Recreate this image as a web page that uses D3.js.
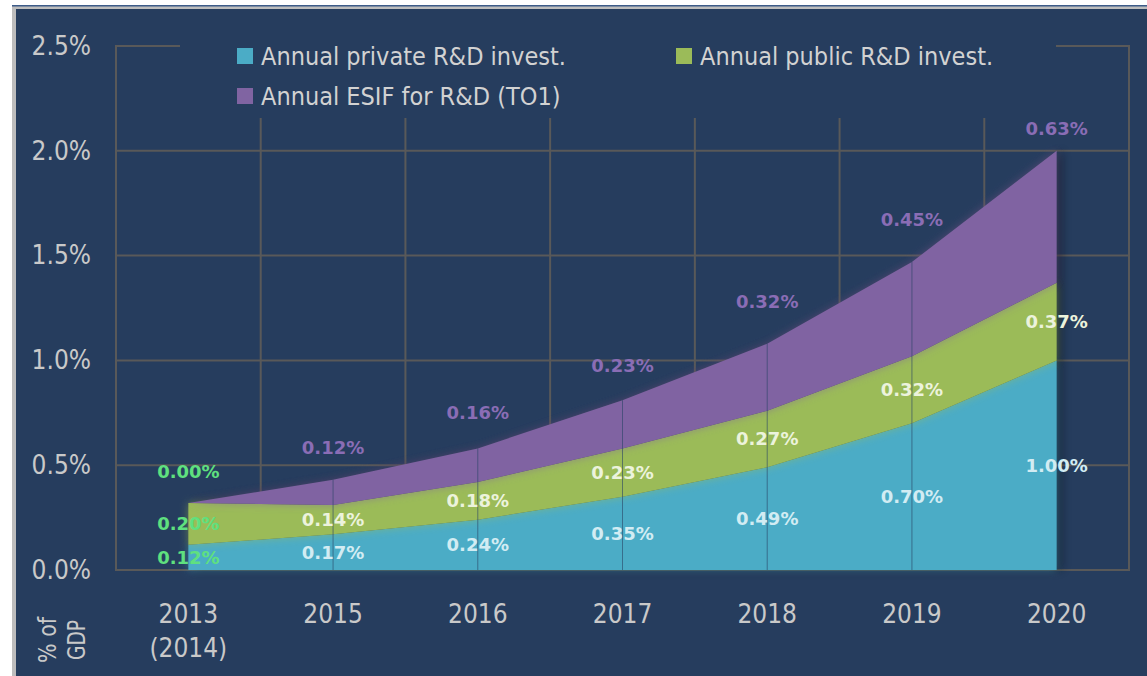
<!DOCTYPE html>
<html>
<head>
<meta charset="utf-8">
<script src="https://cdn.jsdelivr.net/npm/d3@7"></script>
<style>
    html, body { margin: 0; padding: 0; background: #ffffff; }
    #chart svg { display: block; }
</style>
</head>
<body>
<div id="chart"></div>
<script>
// Chart data (values in % of GDP)
const years = ["2013|(2014)", "2015", "2016", "2017", "2018", "2019", "2020"];
const privateRD = [0.12, 0.17, 0.24, 0.35, 0.49, 0.70, 1.00];
const publicRD = [0.20, 0.14, 0.18, 0.23, 0.27, 0.32, 0.37];
const esifRD = [0.00, 0.12, 0.16, 0.23, 0.32, 0.45, 0.63];
const yTicks = [0, 0.5, 1.0, 1.5, 2.0, 2.5];
const seriesNames = ["Annual private R&D invest.", "Annual public R&D invest.", "Annual ESIF for R&D (TO1)"];

// how far the ESIF label sits above the top of the stack (px)
const esifLabelLift = [31, 32, 36, 35, 42, 42, 22];

class StackedAreaChart {
    constructor(containerId, width = 1147, height = 676) {
        this.containerId = containerId;
        this.width = width;
        this.height = height;
        this.plot = { left: 116, right: 1129, top: 46, bottom: 570 };
        this.colors = ["#4bacc6", "#9bbb59", "#8064a2"];
        this.panelColor = "#263d5e";
        this.gridColor = "#595959";
        this.textFont = '"DejaVu Sans Condensed", "Liberation Sans", sans-serif';
        this.labelFont = '"DejaVu Sans", Verdana, sans-serif';
        this.initialize();
    }

    initialize() {
        this.svg = d3.select('#' + this.containerId)
            .append('svg')
            .attr('width', this.width)
            .attr('height', this.height);

        // Frame and dark panel
        this.svg.append('rect')
            .attr('x', 12).attr('y', 5)
            .attr('width', this.width - 12).attr('height', this.height - 5)
            .attr('fill', '#bdbdbd');
        this.svg.append('rect')
            .attr('x', 12).attr('y', 5)
            .attr('width', this.width - 12).attr('height', 1.5)
            .attr('fill', '#3d5b88');
        this.svg.append('rect')
            .attr('x', 16).attr('y', 9)
            .attr('width', this.width - 16).attr('height', this.height - 9)
            .attr('fill', this.panelColor);

        // Soft glow around the areas
        const defs = this.svg.append('defs');
        const glow = defs.append('filter')
            .attr('id', 'glow')
            .attr('x', '-10%').attr('y', '-10%')
            .attr('width', '120%').attr('height', '120%');
        glow.append('feGaussianBlur')
            .attr('in', 'SourceGraphic')
            .attr('stdDeviation', 4)
            .attr('result', 'blur');
        glow.append('feComponentTransfer')
            .attr('in', 'blur')
            .attr('result', 'soft')
            .append('feFuncA').attr('type', 'linear').attr('slope', 0.55);
        const merge = glow.append('feMerge');
        merge.append('feMergeNode').attr('in', 'soft');
        merge.append('feMergeNode').attr('in', 'SourceGraphic');

        const shadow = defs.append('filter')
            .attr('id', 'shadow')
            .attr('x', '-10%').attr('y', '-10%')
            .attr('width', '120%').attr('height', '120%');
        shadow.append('feGaussianBlur')
            .attr('in', 'SourceAlpha')
            .attr('stdDeviation', 5);

        // Scales
        this.x = d3.scaleBand()
            .domain(years)
            .range([this.plot.left, this.plot.right]);
        this.y = d3.scaleLinear()
            .domain([0, 2.5])
            .range([this.plot.bottom, this.plot.top]);
    }

    cx(year) {
        return this.x(year) + this.x.bandwidth() / 2;
    }

    render() {
        const rows = years.map((year, i) => ({
            year: year,
            private: privateRD[i],
            public: publicRD[i],
            esif: esifRD[i]
        }));
        const keys = ['private', 'public', 'esif'];
        const stacked = d3.stack().keys(keys)(rows);

        this.drawGrid();

        // Stacked areas
        const area = d3.area()
            .x(d => this.cx(d.data.year))
            .y0(d => this.y(d[0]))
            .y1(d => this.y(d[1]));

        const top = stacked[stacked.length - 1];
        const outline = d3.area()
            .x(d => this.cx(d.data.year))
            .y0(this.y(0))
            .y1(d => this.y(d[1]));
        this.svg.append('path')
            .datum(top)
            .attr('d', outline)
            .attr('transform', 'translate(5,0)')
            .attr('fill', '#0d1a2c')
            .attr('opacity', 0.45)
            .attr('filter', 'url(#shadow)');

        this.svg.selectAll('path.layer')
            .data(stacked)
            .join('path')
            .attr('class', 'layer')
            .attr('d', area)
            .attr('fill', (d, i) => this.colors[i])
            .attr('filter', 'url(#glow)');

        // Thin drop lines at every year
        this.svg.selectAll('line.drop')
            .data(top.slice(1, -1))
            .join('line')
            .attr('class', 'drop')
            .attr('x1', d => this.cx(d.data.year))
            .attr('x2', d => this.cx(d.data.year))
            .attr('y1', d => this.y(d[1]))
            .attr('y2', this.y(0))
            .attr('stroke', '#2a4466')
            .attr('stroke-opacity', 0.6)
            .attr('stroke-width', 1);

        this.drawLabels(stacked);
        this.drawAxes();
        this.drawLegend();
    }

    drawGrid() {
        const g = this.svg.append('g').attr('class', 'grid');
        g.selectAll('line.h')
            .data(yTicks)
            .join('line')
            .attr('class', 'h')
            .attr('x1', this.plot.left).attr('x2', this.plot.right)
            .attr('y1', d => this.y(d)).attr('y2', d => this.y(d))
            .attr('stroke', this.gridColor)
            .attr('stroke-width', 2);

        const xs = years.map(d => this.x(d)).concat([this.plot.right]);
        g.selectAll('line.v')
            .data(xs)
            .join('line')
            .attr('class', 'v')
            .attr('x1', d => d).attr('x2', d => d)
            .attr('y1', this.y(2.5) - 1).attr('y2', this.y(0) + 1)
            .attr('stroke', this.gridColor)
            .attr('stroke-width', 2);
    }

    drawLabels(stacked) {
        const fmt = v => v.toFixed(2) + '%';
        const labelColors = ['#d2ecf3', '#ecf3dc', '#8a6db5'];
        const firstColor = '#5fe07f';

        stacked.forEach((layer, k) => {
            this.svg.selectAll('text.lbl' + k)
                .data(layer)
                .join('text')
                .attr('class', 'lbl' + k)
                .attr('x', d => this.cx(d.data.year))
                .attr('y', (d, i) => k < 2
                    ? this.y((d[0] + d[1]) / 2)
                    : this.y(d[1]) - esifLabelLift[i])
                .attr('dy', '0.36em')
                .attr('text-anchor', 'middle')
                .style('font-family', this.labelFont)
                .style('font-weight', 'bold')
                .style('font-size', '18px')
                .attr('fill', (d, i) => i === 0 ? firstColor : labelColors[k])
                .text(d => fmt(d[1] - d[0]));
        });
    }

    drawAxes() {
        // Y axis labels
        const yAxis = d3.axisLeft(this.y)
            .tickValues(yTicks)
            .tickSize(0)
            .tickPadding(25)
            .tickFormat(d => d.toFixed(1) + '%');
        const gy = this.svg.append('g')
            .attr('transform', `translate(${this.plot.left},0)`)
            .call(yAxis);
        gy.select('.domain').remove();
        gy.selectAll('text')
            .style('font-family', this.textFont)
            .style('font-size', '26px')
            .attr('fill', '#c9c9c9');

        // X axis labels (two lines for the first year)
        const xAxis = d3.axisBottom(this.x)
            .tickSize(0)
            .tickPadding(35);
        const gx = this.svg.append('g')
            .attr('transform', `translate(0,${this.plot.bottom})`)
            .call(xAxis);
        gx.select('.domain').remove();
        gx.selectAll('text')
            .attr('dy', null)
            .text(null)
            .style('font-family', this.textFont)
            .style('font-size', '26px')
            .attr('fill', '#c9c9c9')
            .each(function(d) {
                const parts = d.split('|');
                parts.forEach((p, i) => {
                    d3.select(this).append('tspan')
                        .attr('x', 0)
                        .attr('dy', i === 0 ? '0.71em' : '1.3em')
                        .text(p);
                });
            });

        // Unit label
        const unit = this.svg.append('g')
            .attr('transform', 'translate(48,640) rotate(-90)');
        [['% of', 0, 46], ['GDP', 29, 40]].forEach(([t, dy, len]) => {
            unit.append('text')
                .attr('x', 0)
                .attr('y', dy)
                .attr('dy', '0.35em')
                .attr('text-anchor', 'middle')
                .attr('textLength', len)
                .attr('lengthAdjust', 'spacingAndGlyphs')
                .style('font-family', this.textFont)
                .style('font-size', '24px')
                .attr('fill', '#c9c9c9')
                .text(t);
        });
    }

    drawLegend() {
        // Legend box hides the grid behind it
        this.svg.append('rect')
            .attr('x', 180).attr('y', 30)
            .attr('width', 876).attr('height', 88)
            .attr('fill', this.panelColor);

        const items = [
            { name: seriesNames[0], color: this.colors[0], x: 237, y: 56 },
            { name: seriesNames[1], color: this.colors[1], x: 676, y: 56 },
            { name: seriesNames[2], color: this.colors[2], x: 237, y: 96 }
        ];
        const leg = this.svg.selectAll('g.legend')
            .data(items)
            .join('g')
            .attr('class', 'legend')
            .attr('transform', d => `translate(${d.x},${d.y})`);
        leg.append('rect')
            .attr('x', 0).attr('y', -8)
            .attr('width', 16).attr('height', 16)
            .attr('fill', d => d.color);
        leg.append('text')
            .attr('x', 24)
            .attr('y', 0)
            .attr('dy', '0.35em')
            .style('font-family', this.textFont)
            .style('font-size', '25px')
            .attr('fill', '#d2d2d2')
            .text(d => d.name);
    }
}

document.addEventListener('DOMContentLoaded', () => {
    const chart = new StackedAreaChart('chart');
    chart.render();
});
</script>
</body>
</html>
